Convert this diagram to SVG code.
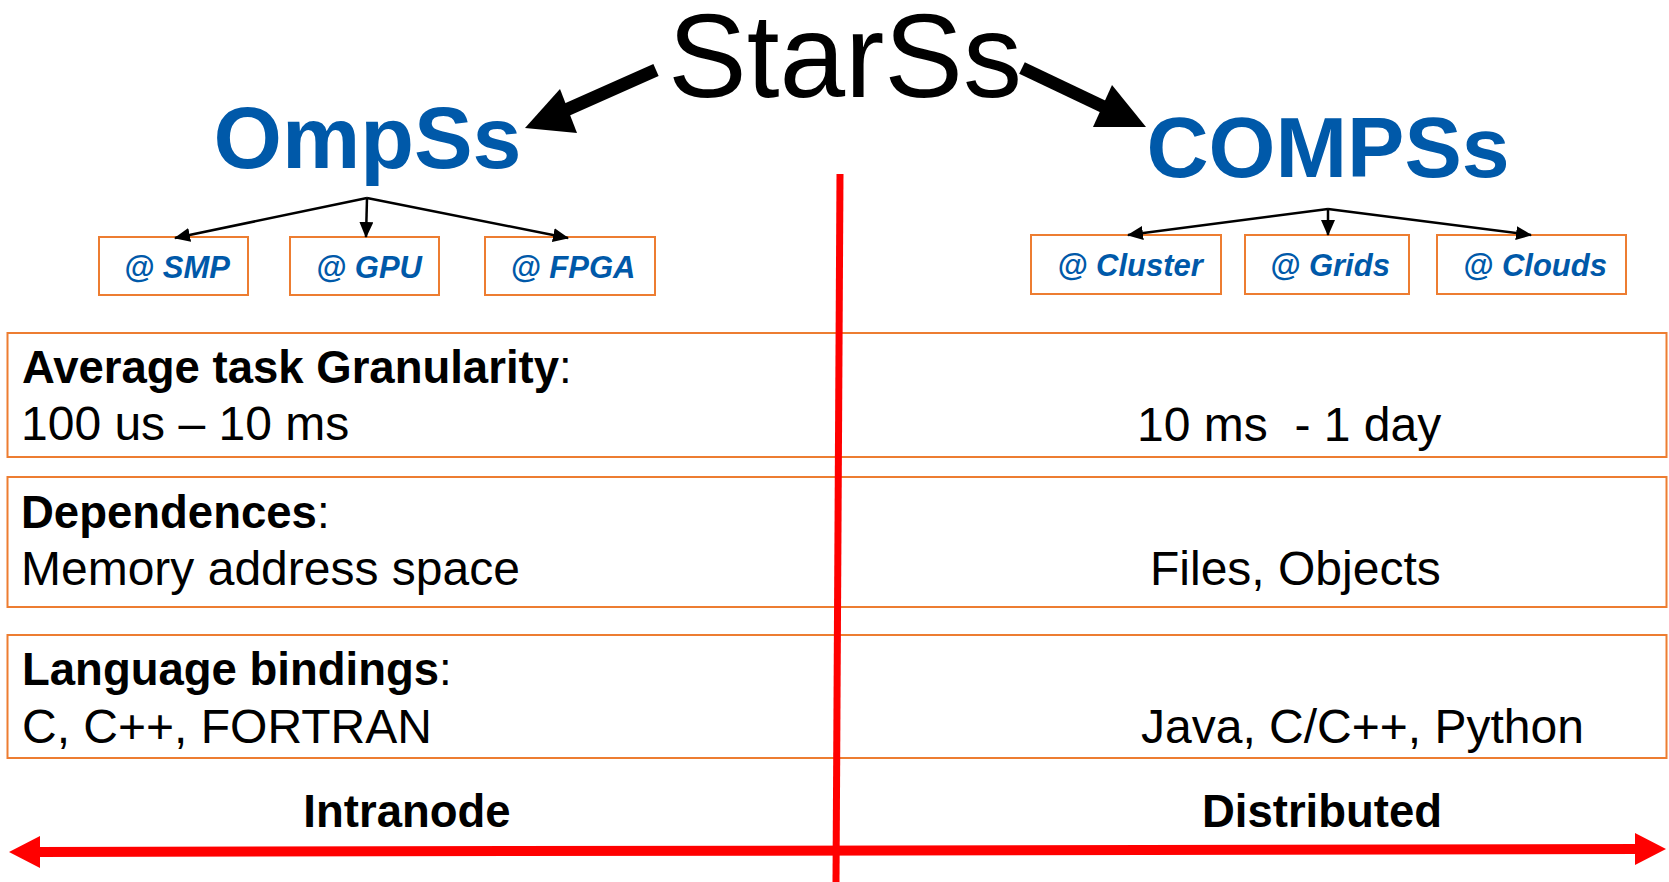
<svg xmlns="http://www.w3.org/2000/svg" width="1669" height="882" viewBox="0 0 1669 882">
<style>
.t{font-family:"Liberation Sans",Arial,sans-serif;}
.big{font-size:118px;fill:#000;}
.title{font-size:88px;font-weight:bold;fill:#0059A9;}
.sub{font-size:31px;font-weight:bold;font-style:italic;fill:#0059A9;}
.ob{fill:#fff;stroke:#ED7D31;stroke-width:2;}
.lb{font-size:45.5px;font-weight:bold;fill:#000;}
.rg{font-size:48px;fill:#000;white-space:pre;}
.thin{stroke:#000;stroke-width:2.5;fill:none;}
.red{stroke:#FF0000;fill:none;}
</style>
<defs>
<marker id="ah" markerUnits="userSpaceOnUse" markerWidth="16" markerHeight="14" refX="15" refY="7" orient="auto">
<path d="M0,0 L16,7 L0,14 Z" fill="#000"/>
</marker>
</defs>

<g id="rows">
<rect class="ob" x="7.5" y="333" width="1659" height="124"/>
<rect class="ob" x="7.5" y="477" width="1659" height="130"/>
<rect class="ob" x="7.5" y="635" width="1659" height="123"/>
</g>

<g id="starss"><text class="t big" x="845" y="97" text-anchor="middle">StarSs</text></g>
<g id="ompss"><text class="t title" x="367.5" y="168" text-anchor="middle">OmpSs</text></g>
<g id="compss"><text class="t title" x="1328" y="177" text-anchor="middle" style="font-size:86px">COMPSs</text></g>

<g id="smp"><rect class="ob" x="99" y="237" width="149" height="58"/><text class="t sub" x="177" y="278" text-anchor="middle">@ SMP</text></g>
<g id="gpu"><rect class="ob" x="290" y="237" width="149" height="58"/><text class="t sub" x="369" y="278" text-anchor="middle">@ GPU</text></g>
<g id="fpga"><rect class="ob" x="485" y="237" width="170" height="58"/><text class="t sub" x="573" y="278" text-anchor="middle">@ FPGA</text></g>
<g id="cluster"><rect class="ob" x="1031" y="235" width="190" height="59"/><text class="t sub" x="1130" y="276" text-anchor="middle">@ Cluster</text></g>
<g id="grids"><rect class="ob" x="1245" y="235" width="164" height="59"/><text class="t sub" x="1330" y="276" text-anchor="middle">@ Grids</text></g>
<g id="clouds"><rect class="ob" x="1437" y="235" width="189" height="59"/><text class="t sub" x="1535" y="276" text-anchor="middle">@ Clouds</text></g>

<g id="row1">
<text class="t lb" x="22" y="383">Average task Granularity<tspan font-weight="normal">:</tspan></text>
<text class="t rg" x="21" y="440">100 us – 10 ms</text>
<text class="t rg" x="1137" y="441">10 ms  - 1 day</text>
</g>
<g id="row2">
<text class="t lb" x="21" y="528">Dependences<tspan font-weight="normal">:</tspan></text>
<text class="t rg" x="21" y="585">Memory address space</text>
<text class="t rg" x="1150" y="585">Files, Objects</text>
</g>
<g id="row3">
<text class="t lb" x="22" y="685">Language bindings<tspan font-weight="normal">:</tspan></text>
<text class="t rg" x="22" y="743">C, C++, FORTRAN</text>
<text class="t rg" x="1141" y="743">Java, C/C++, Python</text>
</g>

<g id="axis-labels">
<text class="t lb" x="407" y="827" text-anchor="middle">Intranode</text>
<text class="t lb" x="1322" y="827" text-anchor="middle">Distributed</text>
</g>

<g id="connectors">
<line x1="656" y1="70" x2="566" y2="110" stroke="#000" stroke-width="13"/>
<polygon points="525,128 560,89 577,133" fill="#000"/>
<line x1="1022" y1="68" x2="1104" y2="107" stroke="#000" stroke-width="13"/>
<polygon points="1146,127 1112,85 1093,127" fill="#000"/>

<line class="thin" x1="367" y1="198" x2="175" y2="238" marker-end="url(#ah)"/>
<line class="thin" x1="367" y1="198" x2="366" y2="237" marker-end="url(#ah)"/>
<line class="thin" x1="367" y1="198" x2="568" y2="238" marker-end="url(#ah)"/>
<line class="thin" x1="1328" y1="209" x2="1128" y2="235" marker-end="url(#ah)"/>
<line class="thin" x1="1328" y1="209" x2="1328" y2="235" marker-end="url(#ah)"/>
<line class="thin" x1="1328" y1="209" x2="1531" y2="235" marker-end="url(#ah)"/>

<line class="red" x1="840" y1="174" x2="836" y2="882" stroke-width="7"/>
<line class="red" x1="38" y1="852" x2="1637" y2="849" stroke-width="10"/>
<polygon points="9,852 40,836 40,868" fill="#FF0000"/>
<polygon points="1666,849 1635,833 1635,865" fill="#FF0000"/>
</g>
</svg>
